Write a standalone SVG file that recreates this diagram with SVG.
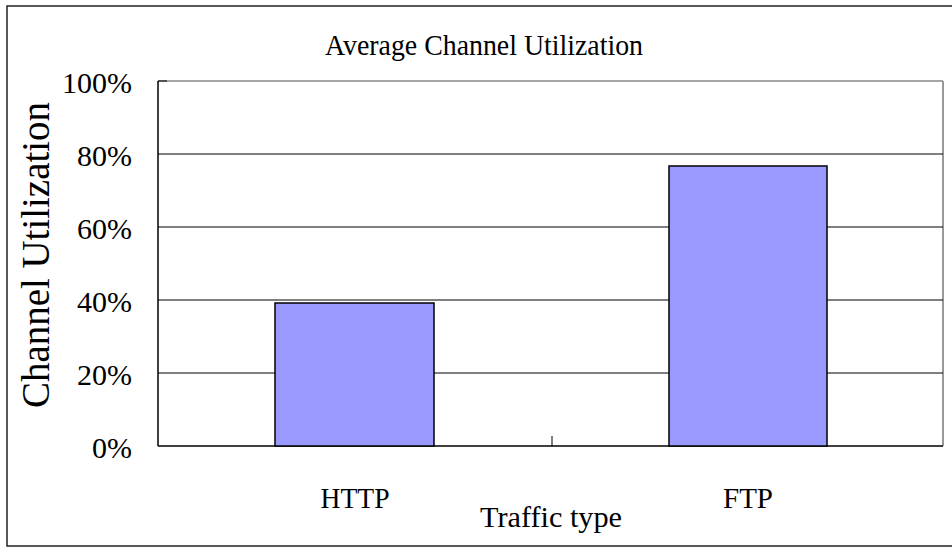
<svg xmlns="http://www.w3.org/2000/svg" width="952" height="547" viewBox="0 0 952 547">
<style>
.grid{stroke:#000;stroke-width:1}
.bar{fill:#9999FF;stroke:#000;stroke-width:1.5}
</style>
<rect x="0" y="0" width="952" height="547" fill="#fff"/>
<rect id="frame" x="7" y="6" width="950" height="540" fill="none" stroke="#222" stroke-width="1.5"/>
<g id="plot">
<rect x="158" y="81" width="785" height="365" fill="#fff" stroke="none"/>
<line x1="158" y1="81" x2="943" y2="81" stroke="#888" stroke-width="1.5"/>
<line x1="943" y1="81" x2="943" y2="446" stroke="#999" stroke-width="2"/>
<line class="grid" x1="158" y1="154" x2="943" y2="154"/>
<line class="grid" x1="158" y1="227" x2="943" y2="227"/>
<line class="grid" x1="158" y1="300" x2="943" y2="300"/>
<line class="grid" x1="158" y1="373" x2="943" y2="373"/>
<line x1="158" y1="81" x2="158" y2="446" stroke="#000" stroke-width="1.5"/>
<line x1="158" y1="446" x2="943" y2="446" stroke="#000" stroke-width="1.5"/>
<g stroke="#000" stroke-width="1">
<line x1="158" y1="81" x2="167" y2="81"/>
<line x1="552" y1="436" x2="552" y2="446"/>
</g>
</g>
<g id="bar-http"><rect class="bar" x="275" y="303" width="159" height="143"/></g>
<g id="bar-ftp"><rect class="bar" x="669" y="166" width="158" height="280"/></g>
<g id="labels" font-family="Liberation Serif" fill="#000">
<text x="484" y="55" font-size="29" text-anchor="middle" textLength="318" lengthAdjust="spacingAndGlyphs">Average Channel Utilization</text>
<g font-size="30" text-anchor="end">
<text x="132" y="93">100%</text>
<text x="132" y="166">80%</text>
<text x="132" y="239">60%</text>
<text x="132" y="312">40%</text>
<text x="132" y="385">20%</text>
<text x="132" y="458">0%</text>
</g>
<text transform="translate(49,255) rotate(-90)" font-size="41" text-anchor="middle" textLength="306" lengthAdjust="spacingAndGlyphs">Channel Utilization</text>
<text x="355" y="508" font-size="29" text-anchor="middle" textLength="69" lengthAdjust="spacingAndGlyphs">HTTP</text>
<text x="748" y="508" font-size="29" text-anchor="middle" textLength="50" lengthAdjust="spacingAndGlyphs">FTP</text>
<text x="551" y="527" font-size="30" text-anchor="middle" textLength="142" lengthAdjust="spacingAndGlyphs">Traffic type</text>
</g>
</svg>
